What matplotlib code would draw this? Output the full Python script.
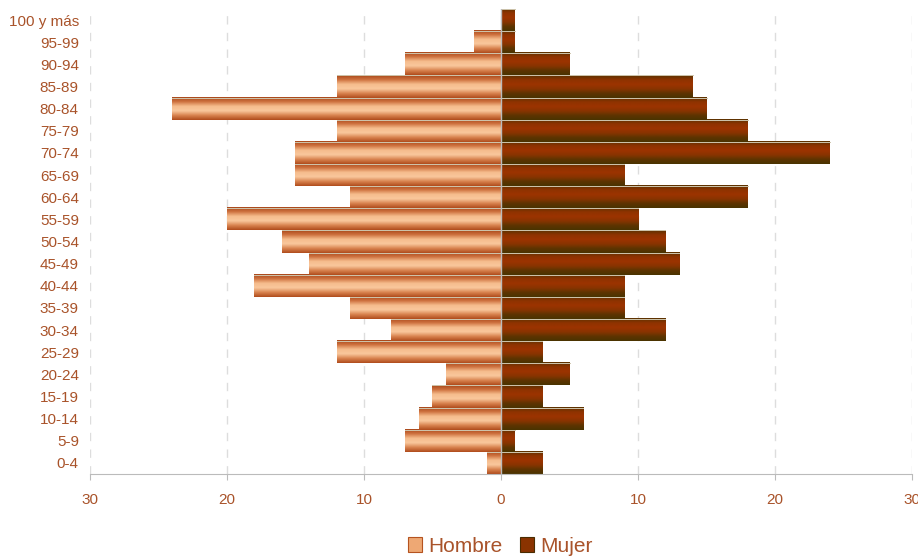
import numpy as np
import matplotlib
matplotlib.use("Agg")
import matplotlib.pyplot as plt
from matplotlib.colors import LinearSegmentedColormap
from matplotlib.patches import Patch
from matplotlib.ticker import FuncFormatter

plt.rcParams['font.family'] = ['Liberation Sans', 'DejaVu Sans']

# grupos de edad, de abajo hacia arriba
grupos = ['0-4', '5-9', '10-14', '15-19', '20-24', '25-29', '30-34', '35-39',
          '40-44', '45-49', '50-54', '55-59', '60-64', '65-69', '70-74',
          '75-79', '80-84', '85-89', '90-94', '95-99', '100 y más']
hombres = [1, 7, 6, 5, 4, 12, 8, 11, 18, 14, 16, 20, 11, 15, 15, 12, 24, 12, 7, 2, 0]
mujeres = [3, 1, 6, 3, 5, 3, 12, 9, 9, 13, 12, 10, 18, 9, 24, 18, 15, 14, 5, 1, 1]

color_texto = '#a9532a'

# degradados verticales (de arriba a abajo) para dar efecto de cilindro
cmap_h = LinearSegmentedColormap.from_list(
    'hombre', ['#b04c1c', '#d98450', '#f9c79c', '#f6bd8e', '#cf7340', '#a9481a'])
cmap_m = LinearSegmentedColormap.from_list(
    'mujer', ['#4a3300', '#5e3400', '#8a3400', '#9c3300', '#8e3300', '#5a3200'])

fig, ax = plt.subplots(figsize=(9.18, 5.59), dpi=100)
fig.subplots_adjust(left=0.098, right=0.9935, bottom=0.152, top=0.984)

y = np.arange(len(grupos))
barras_h = ax.barh(y, [-v for v in hombres], height=1.0, color='none',
                   edgecolor='none')
barras_m = ax.barh(y, mujeres, height=1.0, color='none', edgecolor='none')

grad = np.linspace(0, 1, 64).reshape(-1, 1)
for barras, cmap in ((barras_h, cmap_h), (barras_m, cmap_m)):
    for b in barras:
        x0, y0 = b.get_x(), b.get_y()
        x1, y1 = x0 + b.get_width(), y0 + b.get_height()
        if x0 == x1:
            continue
        ax.imshow(grad, extent=[min(x0, x1), max(x0, x1), y1, y0],
                  cmap=cmap, aspect='auto', zorder=2, interpolation='bilinear')
        ax.plot([min(x0, x1), max(x0, x1)], [y1, y1], color='#cfc6ae',
                lw=0.7, zorder=3)

ax.axvline(0, color='#bbbbbb', lw=1, zorder=4)

ax.set_xlim(-30, 30)
ax.set_ylim(-0.5, len(grupos) - 0.5)
ax.set_xticks([-30, -20, -10, 0, 10, 20, 30])
ax.xaxis.set_major_formatter(FuncFormatter(lambda v, p: f'{abs(int(v))}'))
ax.set_yticks(y)
ax.set_yticklabels(grupos)

ax.grid(axis='x', color='#dddddd', linestyle=(0, (6, 6)), lw=1, zorder=0)
ax.set_axisbelow(True)

for lado in ('top', 'right', 'left'):
    ax.spines[lado].set_visible(False)
ax.spines['bottom'].set_color('#bbbbbb')
ax.tick_params(axis='x', colors='#bbbbbb', labelcolor=color_texto,
               labelsize=11, length=4, pad=10)
ax.tick_params(axis='y', length=0, labelcolor=color_texto, labelsize=11, pad=8)

handles = [Patch(facecolor='#eea874', edgecolor='#b5531f', lw=0.8, label='Hombre'),
           Patch(facecolor='#8a3300', edgecolor='#4a2c00', lw=0.8, label='Mujer')]
fig.legend(handles=handles, loc='lower center', bbox_to_anchor=(0.545, -0.028),
           ncol=2, frameon=False, fontsize=15, labelcolor=color_texto,
           handlelength=0.7, handleheight=0.7, handletextpad=0.3,
           columnspacing=0.8)

fig.savefig('out.png', dpi=100)
